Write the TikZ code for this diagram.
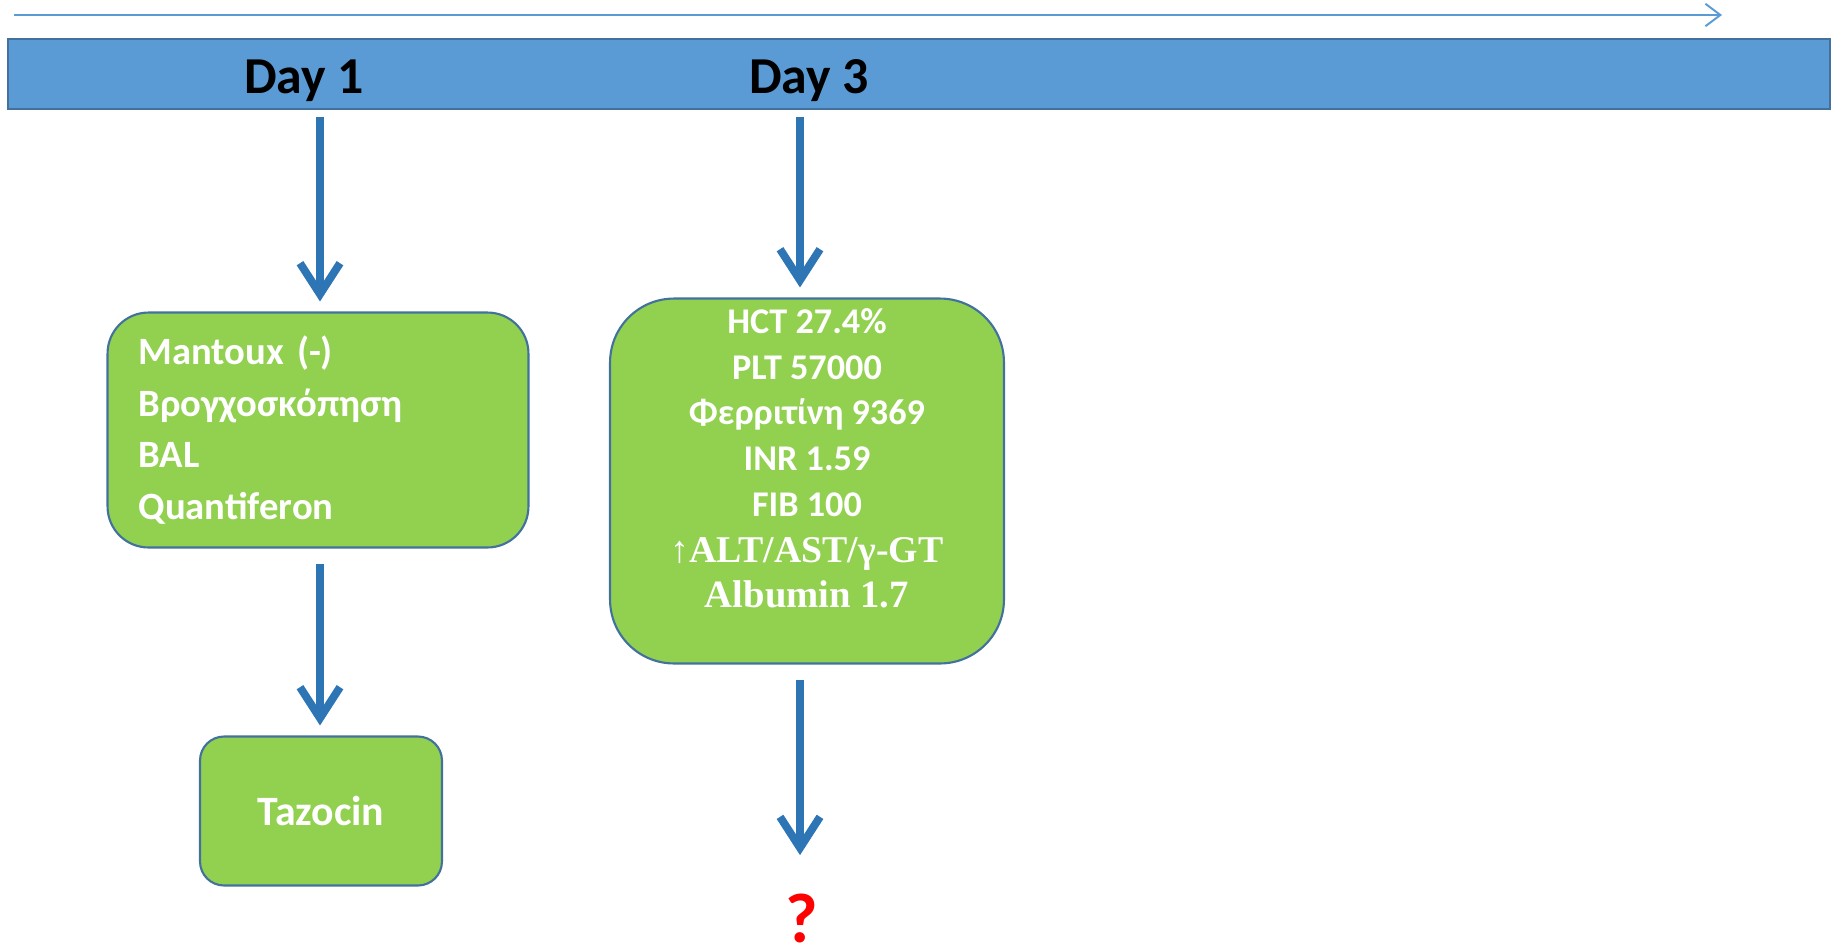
\documentclass[tikz,border=0pt]{standalone}
\usepackage{fontspec}
\setmainfont{Carlito}
\newfontfamily\labserif{Liberation Serif}
\usetikzlibrary{arrows.meta}
\usetikzlibrary{calc}

\definecolor{barblue}{HTML}{5B9BD5}
\definecolor{edgeblue}{HTML}{41719C}
\definecolor{arrowblue}{HTML}{2E75B6}
\definecolor{boxgreen}{HTML}{92D050}

\tikzset{
	greenbox/.style={draw=edgeblue, fill=boxgreen, line width=1.2pt, text=white, font=\bfseries},
	daybar/.style={draw=edgeblue, fill=barblue, line width=1.2pt, inner sep=0pt},
	daylabel/.style={inner sep=0pt, font=\fontsize{29.5}{34}\selectfont\bfseries},
	flow/.style={draw=arrowblue, line width=4.5pt, -{Straight Barb[length=0.62cm, width=0.8cm]}, shorten <=0.3cm, shorten >=0.2cm},
}

\begin{document}
\begin{tikzpicture}[x=0.02cm, y=-0.02cm]
	\useasboundingbox (0,0) rectangle (1839,951);
	
	% time axis on top
	\coordinate (T0) at (14,15);
	\coordinate (T1) at (1722,15);
	\draw[barblue, line width=1.1pt, -{Straight Barb[length=0.3cm, width=0.45cm]}] (T0) -- (T1);
	
	% bar with the days
	\node[daybar, minimum width=36.44cm, minimum height=1.4cm] (bar) at (919,74) {};
	\node[daylabel, anchor=base] (day1) at (304,93) {Day 1};
	\node[daylabel, anchor=base] (day3) at (809,93) {Day 3};
	
	% day 1
	\node[greenbox, rounded corners=0.82cm, text width=7.18cm, inner xsep=0.62cm,
	      minimum height=4.7cm, align=left, font=\fontsize{22}{29.5}\selectfont\bfseries]
	      (mant) at (318,430) {Mantoux (-)\\Βρογχοσκόπηση\\BAL\\Quantiferon};
	\node[greenbox, rounded corners=0.48cm, minimum width=4.84cm, minimum height=2.98cm,
	      font=\fontsize{23.8}{28}\selectfont\bfseries] (tazo) at (321,811) {Tazocin};
	
	% day 3
	\node[greenbox, rounded corners=1.28cm, minimum width=7.88cm, minimum height=7.3cm,
	      align=center, font=\fontsize{20.6}{26}\selectfont\bfseries]
	      (labs) at (807,481) {HCT 27.4\%\\PLT 57000\\Φερριτίνη 9369\\INR 1.59\\FIB 100\\
	      {\labserif\fontsize{21.5}{26}\selectfont ↑ALT/AST/γ-GT}\\
	      {\labserif\fontsize{22}{26}\selectfont Albumin 1.7}\\~};
	\node[inner sep=0pt, text=red, font=\fontsize{40}{44}\selectfont\bfseries, anchor=base] (q) at (802,942) {?};
	
	% arrows
	\draw[flow] ($(day1.south -| mant.north)+(2,0)$) -- ($(mant.north)+(2,0)$);
	\draw[flow] ($(mant.south)+(2,0)$) -- ($(mant.south |- tazo.north)+(2,0)$);
	\draw[flow] ($(day3.south -| labs.north)+(-7,0)$) -- ($(labs.north)+(-7,0)$);
	\draw[flow, shorten >=0.76cm] ($(labs.south)+(-7,0)$) -- ($(labs.south |- q.north)+(-7,0)$);
\end{tikzpicture}
\end{document}
